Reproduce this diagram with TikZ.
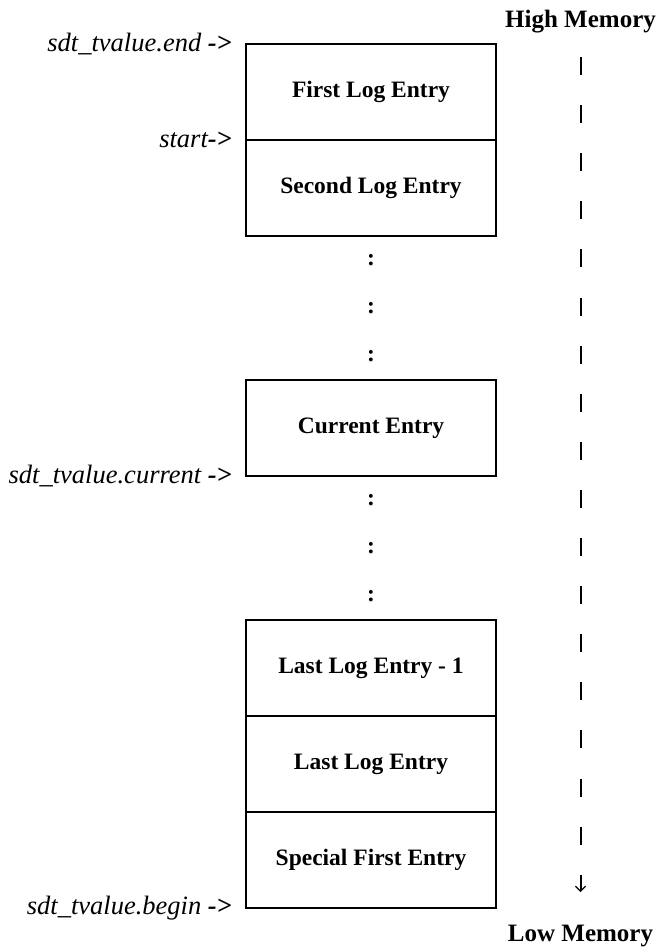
\documentclass[tikz,border=0pt]{standalone}
\usepackage{fontspec}
\setmainfont{Liberation Serif}
\usepackage{tikz}
\usetikzlibrary{positioning,arrows.meta}

\begin{document}
\begin{tikzpicture}[x=1pt,y=-1pt,
    entry/.style={shape=rectangle, draw, line width=1.2pt, minimum width=250pt, minimum height=96pt, inner sep=0pt, outer sep=0pt, font=\fontsize{23.5}{28}\selectfont\bfseries},
    ptr/.style={anchor=east, inner sep=0pt, font=\fontsize{26.5}{30}\selectfont\itshape},
    mem/.style={inner sep=0pt, font=\fontsize{25}{30}\selectfont\bfseries},
    gap/.style={inner sep=0pt, font=\fontsize{23.5}{28}\selectfont\bfseries},
    memline/.style={line width=2pt, dash pattern=on 18pt off 30.1pt, -{Straight Barb[length=5pt,width=10pt,line width=1.2pt]}}]
    \useasboundingbox (0,0) rectangle (663,947);

    \node[entry] (first) at (371,92) {First Log Entry};
    \node[entry, below=0pt of first] (second) {Second Log Entry};
    \node[entry] (current) at (371,428) {Current Entry};
    \node[entry] (lastm) at (371,668) {Last Log Entry - 1};
    \node[entry, below=0pt of lastm] (last) {Last Log Entry};
    \node[entry, below=0pt of last] (special) {Special First Entry};

    \foreach \y [count=\i] in {260,308,356,500,548,596}
      \node[gap] (dots\i) at (371,\y) {:};

    \node[ptr, left=14pt of first.north west] (endp) {sdt\_tvalue.end \textbf{->}};
    \node[ptr, left=14pt of second.north west] (startp) {start\textbf{->}};
    \node[ptr, left=14pt of current.south west] (curp) {sdt\_tvalue.current \textbf{->}};
    \node[ptr, left=14pt of special.south west] (beginp) {sdt\_tvalue.begin \textbf{->}};

    \node[mem] (high) at (580.5,22) {High Memory};
    \node[mem] (low) at (580.5,936) {Low Memory};
    \coordinate (mtop) at (580.5,57);
    \coordinate (mbot) at (580.5,892);
    \draw[memline] (mtop) -- (mbot);
\end{tikzpicture}
\end{document}
